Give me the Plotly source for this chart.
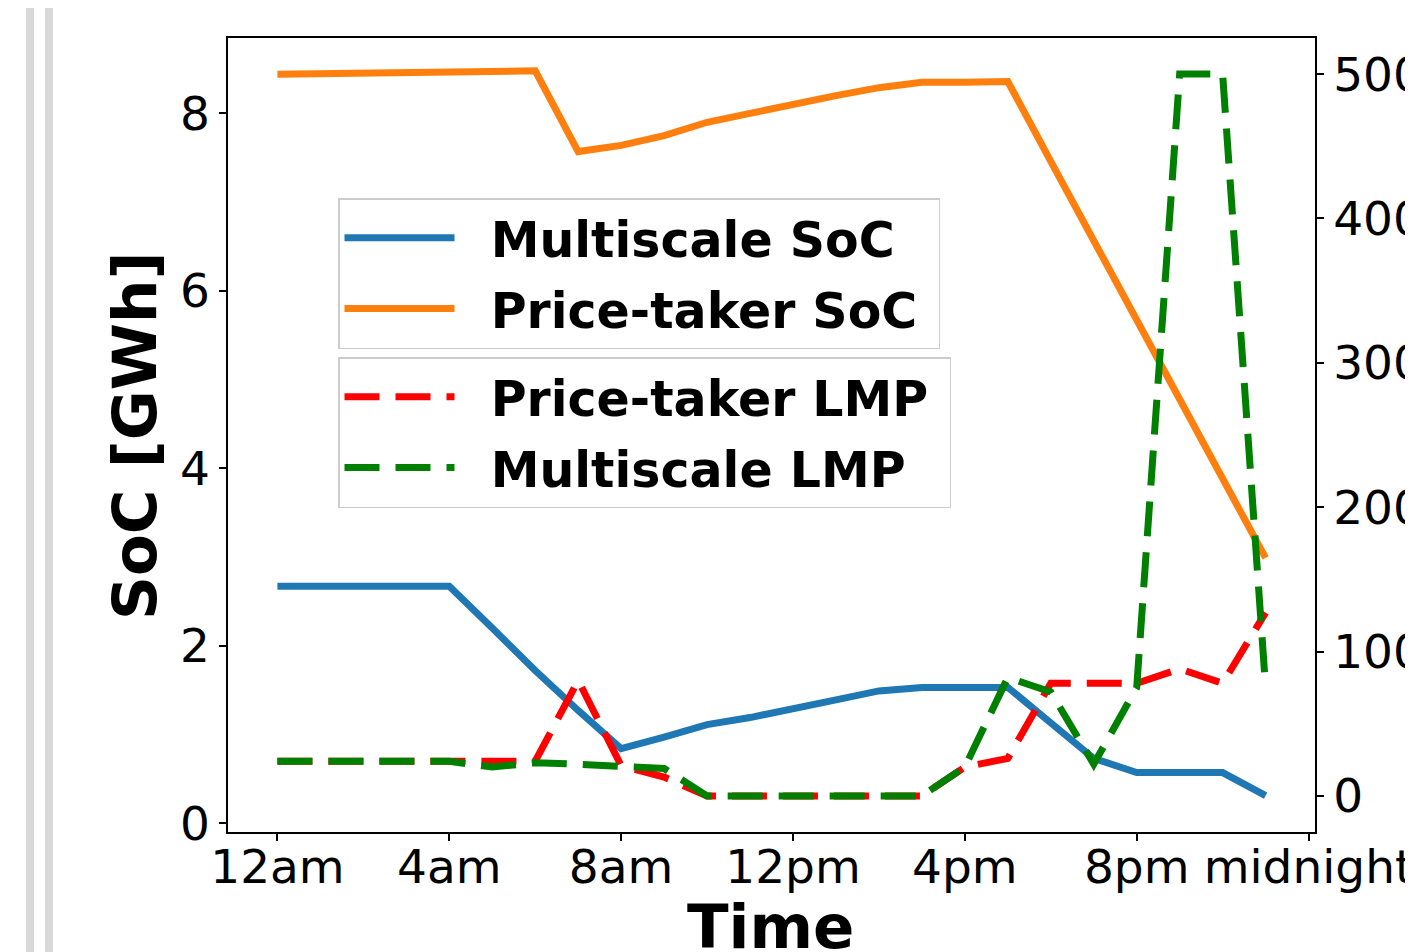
import plotly.graph_objects as go

# ---- data ----
hours = list(range(24))
tick_vals = [0, 4, 8, 12, 16, 20, 24]
tick_text = ["12am", "4am", "8am", "12pm", "4pm", "8pm", "midnight"]

multiscale_soc = [2.67, 2.67, 2.67, 2.67, 2.67, 2.20, 1.72, 1.27, 0.84, 0.97, 1.11, 1.19,
                  1.30, 1.39, 1.49, 1.53, 1.53, 1.53, 1.13, 0.73, 0.57, 0.57, 0.57, 0.31]
pricetaker_soc = [8.44, 8.45, 8.45, 8.46, 8.47, 8.47, 8.48, 7.57, 7.64, 7.75, 7.90, 8.00,
                  8.11, 8.20, 8.29, 8.35, 8.35, 8.36, 7.46, 6.57, 5.67, 4.78, 3.88, 2.99]
pricetaker_lmp = [24, 24, 24, 24, 24, 24, 24, 80, 21, 13, 0, 0,
                  0, 0, 0, 0, 20, 26, 78, 78, 78, 88, 78, 127]
multiscale_lmp = [24, 24, 24, 24, 24, 20, 23, 22, 20, 19, 0, 0,
                  0, 0, 0, 0, 20, 82, 72, 22, 75, 500, 500, 75]

FONT = "DejaVu Sans"
DASH = "35px,16px"
LW = 7
SP = "\u00a0\u00a0"
TR = "\u00a0"

fig = go.Figure()
fig.add_trace(go.Scatter(x=hours, y=multiscale_soc, mode="lines",
                         name=SP + "<b>Multiscale SoC</b>" + TR,
                         line=dict(color="#1f77b4", width=LW), legend="legend", legendgroup="a"))
fig.add_trace(go.Scatter(x=hours, y=pricetaker_soc, mode="lines",
                         name=SP + "<b>Price-taker SoC</b>" + TR,
                         line=dict(color="#ff7f0e", width=LW), legend="legend", legendgroup="b"))
fig.add_trace(go.Scatter(x=hours, y=pricetaker_lmp, mode="lines",
                         name=SP + "<b>Price-taker LMP</b>" + TR,
                         line=dict(color="#ff0000", width=LW, dash=DASH), yaxis="y2",
                         legend="legend2", legendgroup="c"))
fig.add_trace(go.Scatter(x=hours, y=multiscale_lmp, mode="lines",
                         name=SP + "<b>Multiscale LMP</b>" + TR,
                         line=dict(color="#008000", width=LW, dash=DASH), yaxis="y2",
                         legend="legend2", legendgroup="d"))

tickfont = dict(family=FONT, size=47, color="black")
legfont = dict(family=FONT, size=49, color="black")

W, H = 1413, 952
OFF = 8  # page body offset
# plot area in page pixels (as seen in the reference)
PL, PR, PT, PB = 228, 1315, 38, 832


def px(x):
    return (x - PL) / (PR - PL)


def py(y):
    return (PB - y) / (PB - PT)


axis_common = dict(showgrid=False, zeroline=False, showline=True, linecolor="black",
                   linewidth=1.5, ticks="outside", ticklen=7, tickwidth=1.5,
                   tickcolor="black", tickfont=tickfont, automargin=False)

fig.update_layout(
    template="none",
    width=W, height=H,
    margin=dict(l=PL - OFF, r=W - (PR - OFF), t=PT - OFF, b=H - (PB - OFF), pad=0),
    paper_bgcolor="white", plot_bgcolor="white",
    showlegend=True,
    xaxis=dict(range=[-1.15, 24.15], tickvals=tick_vals, ticktext=tick_text, mirror=True,
               ticklabelstandoff=-14, **axis_common),
    yaxis=dict(range=[-0.10, 8.85], tickvals=[0, 2, 4, 6, 8], **axis_common),
    yaxis2=dict(range=[-25, 525], tickvals=[0, 100, 200, 300, 400, 500], overlaying="y",
                side="right", **axis_common),
    legend=dict(x=px(338), y=py(198), xanchor="left", yanchor="top", font=legfont,
                bgcolor="rgba(255,255,255,0.8)", bordercolor="#cccccc", borderwidth=1.5,
                traceorder="grouped", tracegroupgap=4, itemwidth=110),
    legend2=dict(x=px(338), y=py(357), xanchor="left", yanchor="top", font=legfont,
                 bgcolor="rgba(255,255,255,0.8)", bordercolor="#cccccc", borderwidth=1.5,
                 traceorder="grouped", tracegroupgap=4, itemwidth=110),
    annotations=[
        dict(text="<b>Time</b>", xref="paper", yref="paper", x=px(770), y=py(889),
             xanchor="center", yanchor="top", showarrow=False,
             font=dict(family=FONT, size=61, color="black")),
        dict(text="<b>SoC [GWh]</b>", xref="paper", yref="paper", x=px(135), y=py(436),
             xanchor="center", yanchor="middle", showarrow=False, textangle=-90,
             font=dict(family=FONT, size=61, color="black")),
    ],
    shapes=[
        dict(type="rect", xref="paper", yref="paper", x0=px(26), x1=px(34), y0=-0.3, y1=1.3,
             fillcolor="#d9d9d9", line=dict(width=0), layer="below"),
        dict(type="rect", xref="paper", yref="paper", x0=px(45), x1=px(53), y0=-0.3, y1=1.3,
             fillcolor="#d9d9d9", line=dict(width=0), layer="below"),
    ],
)

fig.write_html("out.html")
